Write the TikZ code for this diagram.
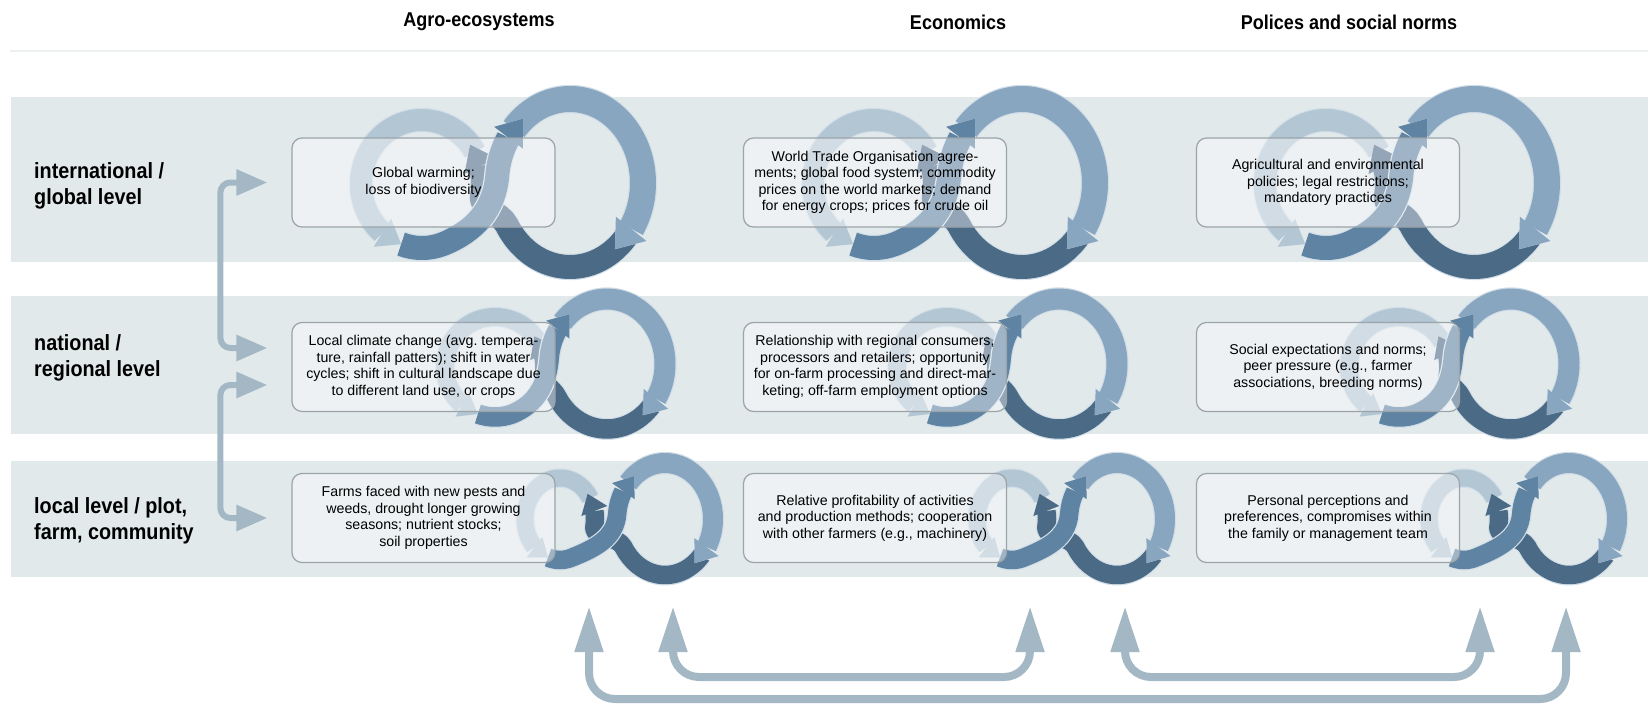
\documentclass[tikz,border=0pt]{standalone}
\usepackage{fontspec}
\setmainfont{Liberation Sans}
\newfontfamily\headfont[FakeStretch=0.9]{Liberation Sans}
\usetikzlibrary{arrows.meta,bending,calc}

\definecolor{bandgray}{HTML}{E2E9EB}
\definecolor{rulegray}{HTML}{ECF0F1}
\definecolor{linkblue}{HTML}{A3B8C4}
\definecolor{paleloop}{HTML}{B3C6D4}
\definecolor{lightloop}{HTML}{88A6BF}
\definecolor{midloop}{HTML}{5F83A2}
\definecolor{darkloop}{HTML}{4B6A86}
\definecolor{ringedge}{HTML}{D3DFE8}
\definecolor{boxedge}{HTML}{9AA4A9}

\tikzset{
  band/.style={fill=bandgray},
  colhead/.style={font=\headfont\bfseries\fontsize{20}{24}\selectfont, inner sep=0pt},
  rowlabel/.style={font=\headfont\bfseries\fontsize{22}{26}\selectfont, align=left, anchor=west, inner sep=0pt},
  infobox/.style={draw=boxedge, line width=1.2pt, rounded corners=10pt, fill=white, fill opacity=.4, text opacity=1,
    minimum width=263pt, minimum height=89pt, inner sep=3pt, align=center, font=\fontsize{14.2}{16.5}\selectfont},
  ringseg/.style 2 args={line width=#1pt, line cap=butt, -{Triangle[length=#1pt, width=#2pt, line width=0pt]},
    preaction={draw=ringedge, line width=#1pt+2.4pt}},
  linkarrow/.style={draw=linkblue, line width=6pt, rounded corners=10pt,
    {Triangle[length=31pt, width=25pt]}-{Triangle[length=31pt, width=25pt]}},
  feedarrow/.style={draw=linkblue, line width=8pt, rounded corners=26pt,
    {Triangle[length=46pt, width=27pt]}-{Triangle[length=46pt, width=27pt]}},
}

% one figure-of-eight loop, shifted by #1
\newcommand{\loopsign}[1]{%
  \begin{scope}[xshift=#1]
    \coordinate (S) at (\smx,\smy);
    \coordinate (B) at (\bgx,\bgy);
    % pale upper part of the small loop
    \draw[ringseg={\smw}{\smwt}, draw=paleloop]
      ($(S)+({\smrx*cos(30)},{\smry*sin(30)})$)
      arc[start angle=30, end angle=250, x radius=\smrx, y radius=\smry];
    % dark lower part of the big loop, over to the small one
    \draw[ringseg={\mdw}{\mdwt}, draw=darkloop]
      ($(B)+({\bgrx*cos(-40)},{\bgry*sin(-40)})$)
      arc[start angle=-40, end angle=-150, x radius=\bgrx, y radius=\bgry]
      to[out=117, in=261] ($(S)+({\smrx*cos(-10)},{\smry*sin(-10)})$)
      arc[start angle=-10, end angle=38, x radius=\smrx, y radius=\smry];
    % light upper part of the big loop
    \draw[ringseg={\bgw}{\bgwt}, draw=lightloop]
      ($(B)+({\bgrx*cos(140)},{\bgry*sin(140)})$)
      arc[start angle=140, end angle=-52, x radius=\bgrx, y radius=\bgry];
    % middle part from the small loop up into the big one
    \draw[ringseg={\mdw}{\mdwt}, draw=midloop]
      ($(S)+({\smrx*cos(250)},{\smry*sin(250)})$)
      arc[start angle=250, end angle=290, x radius=\smrx, y radius=\smry]
      to[out=22, in=265] ($(B)+({\bgrx*cos(175)},{\bgry*sin(175)})$)
      arc[start angle=175, end angle=130, x radius=\bgrx, y radius=\bgry];
  \end{scope}}

\newcommand{\setwidths}{%
  \pgfmathsetmacro\smwt{1.5*\smw}\pgfmathsetmacro\bgwt{1.5*\bgw}%
  \pgfmathsetmacro\mdw{(\smw+\bgw)/2}\pgfmathsetmacro\mdwt{1.5*\mdw}}

\begin{document}
\begin{tikzpicture}[x=1pt, y=1pt, line join=round]
  \useasboundingbox (0,0) rectangle (1648,-709);

  % column heads
  \node[colhead] (hagro) at (479,-22) {Agro-ecosystems};
  \node[colhead] (hecon) at (958,-22) {Economics};
  \node[colhead] (hpol) at (1349,-22) {Polices and social norms};
  \draw[rulegray, line width=2pt] (10,-51) -- (1648,-51);

  % level bands
  \fill[band] (11,-97) rectangle (1648,-262);
  \fill[band] (11,-296) rectangle (1648,-434);
  \fill[band] (11,-461) rectangle (1648,-577);

  % loops, global row
  \def\smx{422}\def\smy{-184}\def\smrx{61}\def\smry{64}\def\smw{22}
  \def\bgx{570}\def\bgy{-183}\def\bgrx{73}\def\bgry{84}\def\bgw{26}
  \setwidths
  \loopsign{0pt}\loopsign{452pt}\loopsign{904pt}

  % loops, regional row
  \def\smx{495}\def\smy{-367}\def\smrx{50}\def\smry{50}\def\smw{18}
  \def\bgx{607}\def\bgy{-364}\def\bgrx{58}\def\bgry{65}\def\bgw{21}
  \setwidths
  \loopsign{0pt}\loopsign{452pt}\loopsign{904pt}

  % loops, local row
  \def\smx{560}\def\smy{-519}\def\smrx{35}\def\smry{41}\def\smw{17}
  \def\bgx{665}\def\bgy{-519}\def\bgrx{48}\def\bgry{56}\def\bgw{20}
  \setwidths
  \loopsign{0pt}\loopsign{452pt}\loopsign{904pt}

  % level labels
  \node[rowlabel] (lglobal) at (34,-186) {international /\\global level};
  \node[rowlabel] (lregional) at (34,-358) {national /\\regional level};
  \node[rowlabel] (llocal) at (34,-521) {local level / plot,\\farm, community};

  % text boxes
  \node[infobox] (a1) at (423.5,-182.5) {Global warming;\\loss of biodiversity};
  \node[infobox] (e1) at (875,-182.5) {World Trade Organisation agree-\\ments; global food system; commodity\\prices on the world markets; demand\\for energy crops; prices for crude oil};
  \node[infobox] (p1) at (1328,-182.5) {Agricultural and environmental\\policies; legal restrictions;\\mandatory practices};
  \node[infobox] (a2) at (423.5,-367) {Local climate change (avg.\ tempera-\\ture, rainfall patters); shift in water\\cycles; shift in cultural landscape due\\to different land use, or crops};
  \node[infobox] (e2) at (875,-367) {Relationship with regional consumers,\\processors and retailers; opportunity\\for on-farm processing and direct-mar-\\keting; off-farm employment options};
  \node[infobox] (p2) at (1328,-367) {Social expectations and norms;\\peer pressure (e.g., farmer\\associations, breeding norms)};
  \node[infobox] (a3) at (423.5,-518) {Farms faced with new pests and\\weeds, drought longer growing\\seasons; nutrient stocks;\\soil properties};
  \node[infobox] (e3) at (875,-518) {Relative profitability of activities\\and production methods; cooperation\\with other farmers (e.g., machinery)};
  \node[infobox] (p3) at (1328,-518) {Personal perceptions and\\preferences, compromises within\\the family or management team};

  % links between levels
  \coordinate (gin) at ([xshift=-24pt]a1.west);
  \coordinate (rin1) at ([xshift=-24pt, yshift=19pt]a2.west);
  \coordinate (rin2) at ([xshift=-24pt, yshift=-18pt]a2.west);
  \coordinate (lin) at ([xshift=-24pt]a3.west);
  \draw[linkarrow] (gin) -- ++(-47,0) |- (rin1);
  \draw[linkarrow] (rin2) -- ++(-47,0) |- (lin);

  % links between domains
  \coordinate (u1) at (589,-606);
  \coordinate (u2) at (673,-606);
  \coordinate (u3) at (1030,-606);
  \coordinate (u4) at (1125,-606);
  \coordinate (u5) at (1480,-606);
  \coordinate (u6) at (1566,-606);
  \draw[feedarrow] (u1) -- ++(0,-93) -| (u6);
  \draw[feedarrow] (u2) -- ++(0,-71) -| (u3);
  \draw[feedarrow] (u4) -- ++(0,-71) -| (u5);
\end{tikzpicture}
\end{document}
